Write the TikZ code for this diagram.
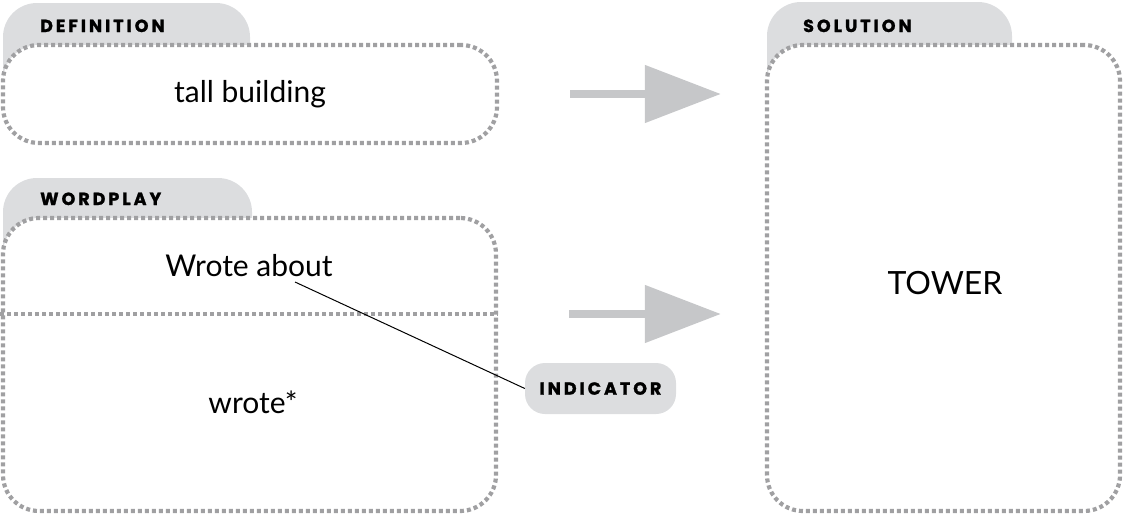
\documentclass[tikz,border=0pt]{standalone}
\usepackage{fontspec}
\setmainfont{Lato}
\newfontfamily\capsfont[LetterSpace=17, BoldFeatures={FakeBold=1.4}]{Poppins}
\usetikzlibrary{arrows.meta, positioning}
\definecolor{tabgray}{RGB}{220,221,223}
\definecolor{dotgray}{RGB}{160,160,162}
\definecolor{arrowgray}{RGB}{198,199,201}

\begin{document}
\begin{tikzpicture}[
  x=1pt, y=-1pt,
  every node/.style={font=\fontsize{30}{34}\selectfont},
  framebox/.style={draw=dotgray, line width=4.2pt, dash pattern=on 4pt off 3pt,
               fill=white, rounded corners=36pt, inner sep=0pt},
  dotline/.style={draw=dotgray, line width=4.2pt, dash pattern=on 4pt off 3pt},
  tab/.style={fill=tabgray, rounded corners=34pt},
  heading/.style={anchor=base west, inner sep=0pt,
               font=\capsfont\bfseries\fontsize{17.5}{19}\selectfont},
  bigarrow/.style={arrowgray, line width=8pt,
               -{Triangle[length=76pt, width=56pt]}}
]
\useasboundingbox (0,0) rectangle (1124,514);

% tabs behind the boxes
\fill[tab] (3,120) -- (3,3) -- (250,3) -- (250,120) -- cycle;
\fill[tab] (3,300) -- (3,178) -- (252,178) -- (252,300) -- cycle;
\fill[tab] (767,120) -- (767,2) -- (1012,2) -- (1012,120) -- cycle;

% boxes
\node[framebox, minimum width=494pt, minimum height=98pt] (def) at (250,94) {tall building};
\node[framebox, minimum width=493pt, minimum height=293pt] (wp) at (249.5,364.5) {};
\node[framebox, minimum width=353pt, minimum height=466pt] (sol) at (943.5,278) {};
\node[font=\fontsize{32}{36}\selectfont] (tower) at (945,283) {TOWER};

\node[heading] (defhead) at (40,32) {DEFINITION};
\node[heading] (wphead) at (40,205) {WORDPLAY};
\node[heading] (solhead) at (803,32) {SOLUTION};

% wordplay halves
\coordinate (div) at (0,314);
\draw[dotline] (div) -- (div -| wp.east);
\node (wa) at (249,266) {Wrote about};
\node (wr) at (253,402) {wrote*};

\node[fill=tabgray, rounded corners=20pt, minimum width=151pt, minimum height=51pt,
      inner sep=0pt, font=\capsfont\bfseries\fontsize{17.5}{19}\selectfont]
  (ind) at (600.5,388.5) {INDICATOR};
\coordinate (lnk) at (295,282);
\draw[line width=1pt] (lnk) -- (ind.west);

% arrows
\draw[bigarrow] ([xshift=71pt]def.east) -- ([xshift=-44pt]sol.west |- def.east);
\draw[bigarrow] ([xshift=71pt]div -| wp.east) -- ([xshift=-44pt]sol.west |- div);

\end{tikzpicture}
\end{document}
